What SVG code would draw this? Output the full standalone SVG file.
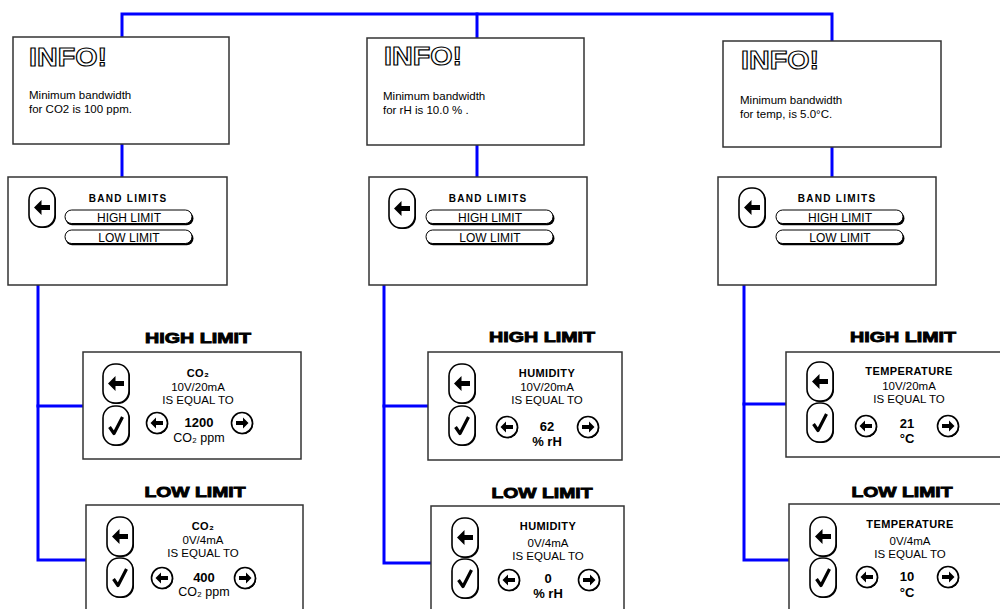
<svg xmlns="http://www.w3.org/2000/svg" xmlns:xlink="http://www.w3.org/1999/xlink" width="1000" height="609" viewBox="0 0 1000 609">
<style>
  .box{fill:#fff;stroke:#333;stroke-width:1.5}
  .conn{fill:none;stroke:#0000ff;stroke-width:3;stroke-linecap:square}
  .info{font-family:"Liberation Sans",Arial,sans-serif;font-weight:bold;font-size:25px;fill:#fff;stroke:#000;stroke-width:1.1}
  .body{font-family:"Liberation Sans",Arial,sans-serif;font-size:11.5px;fill:#000}
  .bl{font-family:"Liberation Sans",Arial,sans-serif;font-weight:bold;font-size:10px;letter-spacing:1.3px;fill:#000;text-anchor:middle}
  .pt{font-family:"Liberation Sans",Arial,sans-serif;font-size:12px;fill:#000;text-anchor:middle}
  .title{font-family:"Liberation Sans",Arial,sans-serif;font-weight:bold;font-size:15px;fill:#000;stroke:#000;stroke-width:0.9;text-anchor:middle}
  .hdr{font-family:"Liberation Sans","DejaVu Sans",sans-serif;font-weight:bold;font-size:11px;letter-spacing:0.4px;fill:#000;text-anchor:middle}
  .sm{font-family:"Liberation Sans",Arial,sans-serif;font-size:11.5px;fill:#000;text-anchor:middle}
  .val{font-family:"Liberation Sans","DejaVu Sans",sans-serif;font-weight:bold;font-size:13px;fill:#000;text-anchor:middle}
  .unit{font-family:"Liberation Sans","DejaVu Sans",sans-serif;font-size:12.5px;fill:#000;text-anchor:middle}
  .unitb{font-family:"Liberation Sans","DejaVu Sans",sans-serif;font-weight:bold;font-size:13px;fill:#000;text-anchor:middle}
</style>
<defs>
  <g id="btnBack">
    <rect x="1" y="1" width="26" height="39" rx="12" fill="#000"/>
    <rect x="0" y="0" width="26" height="39" rx="12" fill="#fff" stroke="#000" stroke-width="1.6"/>
    <polygon points="5,19.5 12.5,12 12.5,17 21,17 21,22 12.5,22 12.5,27" fill="#000"/>
  </g>
  <g id="btnCheck">
    <rect x="1" y="1" width="26" height="39" rx="12" fill="#000"/>
    <rect x="0" y="0" width="26" height="39" rx="12" fill="#fff" stroke="#000" stroke-width="1.6"/>
    <path d="M6.5,21 L11,27.5 L19.5,11" fill="none" stroke="#000" stroke-width="3.2" stroke-linejoin="round"/>
  </g>
  <g id="circL">
    <circle cx="0.8" cy="0.8" r="10.5" fill="#000"/>
    <circle cx="0" cy="0" r="10.5" fill="#fff" stroke="#000" stroke-width="1.6"/>
    <polygon points="-6.5,0 -1,-5.5 -1,-2 6,-2 6,2 -1,2 -1,5.5" fill="#000"/>
  </g>
  <g id="circR">
    <circle cx="0.8" cy="0.8" r="10.5" fill="#000"/>
    <circle cx="0" cy="0" r="10.5" fill="#fff" stroke="#000" stroke-width="1.6"/>
    <polygon points="6.5,0 1,-5.5 1,-2 -6,-2 -6,2 1,2 1,5.5" fill="#000"/>
  </g>
  <g id="pill">
    <rect x="0.5" y="1.8" width="128" height="13.5" rx="6.7" fill="#000"/>
    <rect x="0" y="0" width="127" height="13.5" rx="6.7" fill="#fff" stroke="#000" stroke-width="1"/>
  </g>
</defs>

<g id="connectors">
  <path class="conn" d="M122,37 V14 H832 V41"/>
  <path class="conn" d="M477,14 V38"/>
  <path class="conn" d="M122,144 V177"/>
  <path class="conn" d="M477,145 V177"/>
  <path class="conn" d="M832,147 V177"/>
  <path class="conn" d="M38,285 V560 H86"/>
  <path class="conn" d="M38,406 H83"/>
  <path class="conn" d="M384,285 V563 H431"/>
  <path class="conn" d="M384,406 H428"/>
  <path class="conn" d="M744,285 V560 H789"/>
  <path class="conn" d="M744,404 H786"/>
</g>

<!-- Column 1 -->
<g id="info1">
  <rect class="box" x="13" y="37" width="216" height="107"/>
  <text class="info" x="29" y="66" textLength="78" lengthAdjust="spacingAndGlyphs">INFO!</text>
  <text class="body" x="29" y="99">Minimum bandwidth</text>
  <text class="body" x="29" y="113">for CO2 is 100 ppm.</text>
</g>
<g id="band1">
  <rect class="box" x="8" y="177" width="219" height="108"/>
  <use xlink:href="#btnBack" x="29" y="188"/>
  <text class="bl" x="128" y="202">BAND LIMITS</text>
  <use xlink:href="#pill" x="65" y="210"/>
  <text class="pt" x="129" y="222">HIGH LIMIT</text>
  <use xlink:href="#pill" x="65" y="230"/>
  <text class="pt" x="129" y="242">LOW LIMIT</text>
</g>
<g id="high1">
  <text class="title" x="198" y="343" textLength="106" lengthAdjust="spacingAndGlyphs">HIGH LIMIT</text>
  <rect class="box" x="83" y="352" width="218" height="107"/>
  <use xlink:href="#btnBack" x="103" y="364"/>
  <use xlink:href="#btnCheck" x="103" y="406"/>
  <text class="hdr" x="198" y="377">CO₂</text>
  <text class="sm" x="198" y="391">10V/20mA</text>
  <text class="sm" x="198" y="404">IS EQUAL TO</text>
  <use xlink:href="#circL" x="157" y="423"/>
  <use xlink:href="#circR" x="242" y="423"/>
  <text class="val" x="199" y="427">1200</text>
  <text class="unit" x="199" y="442">CO₂ ppm</text>
</g>
<g id="low1">
  <text class="title" x="195" y="497" textLength="101" lengthAdjust="spacingAndGlyphs">LOW LIMIT</text>
  <rect class="box" x="86" y="505" width="217" height="112"/>
  <use xlink:href="#btnBack" x="107" y="517"/>
  <use xlink:href="#btnCheck" x="107" y="558"/>
  <text class="hdr" x="203" y="530">CO₂</text>
  <text class="sm" x="203" y="544">0V/4mA</text>
  <text class="sm" x="203" y="557">IS EQUAL TO</text>
  <use xlink:href="#circL" x="162" y="578"/>
  <use xlink:href="#circR" x="245" y="578"/>
  <text class="val" x="204" y="582">400</text>
  <text class="unit" x="204" y="596">CO₂ ppm</text>
</g>

<!-- Column 2 -->
<g id="info2">
  <rect class="box" x="367" y="38" width="217" height="107"/>
  <text class="info" x="384" y="65" textLength="78" lengthAdjust="spacingAndGlyphs">INFO!</text>
  <text class="body" x="383" y="100">Minimum bandwidth</text>
  <text class="body" x="383" y="114">for rH is 10.0 % .</text>
</g>
<g id="band2">
  <rect class="box" x="369" y="177" width="218" height="108"/>
  <use xlink:href="#btnBack" x="389" y="189"/>
  <text class="bl" x="488" y="202">BAND LIMITS</text>
  <use xlink:href="#pill" x="426" y="210"/>
  <text class="pt" x="490" y="222">HIGH LIMIT</text>
  <use xlink:href="#pill" x="426" y="230"/>
  <text class="pt" x="490" y="242">LOW LIMIT</text>
</g>
<g id="high2">
  <text class="title" x="542" y="342" textLength="106" lengthAdjust="spacingAndGlyphs">HIGH LIMIT</text>
  <rect class="box" x="428" y="352" width="194" height="108"/>
  <use xlink:href="#btnBack" x="449" y="364"/>
  <use xlink:href="#btnCheck" x="449" y="406"/>
  <text class="hdr" x="547" y="377">HUMIDITY</text>
  <text class="sm" x="547" y="391">10V/20mA</text>
  <text class="sm" x="547" y="404">IS EQUAL TO</text>
  <use xlink:href="#circL" x="507" y="427"/>
  <use xlink:href="#circR" x="588" y="427"/>
  <text class="val" x="547" y="431">62</text>
  <text class="unitb" x="547" y="446">% rH</text>
</g>
<g id="low2">
  <text class="title" x="542" y="498" textLength="101" lengthAdjust="spacingAndGlyphs">LOW LIMIT</text>
  <rect class="box" x="431" y="506" width="193" height="112"/>
  <use xlink:href="#btnBack" x="452" y="518"/>
  <use xlink:href="#btnCheck" x="452" y="559"/>
  <text class="hdr" x="548" y="530">HUMIDITY</text>
  <text class="sm" x="548" y="547">0V/4mA</text>
  <text class="sm" x="548" y="560">IS EQUAL TO</text>
  <use xlink:href="#circL" x="509" y="580"/>
  <use xlink:href="#circR" x="589" y="580"/>
  <text class="val" x="548" y="583">0</text>
  <text class="unitb" x="548" y="598">% rH</text>
</g>

<!-- Column 3 -->
<g id="info3">
  <rect class="box" x="723" y="41" width="218" height="106"/>
  <text class="info" x="741" y="69" textLength="78" lengthAdjust="spacingAndGlyphs">INFO!</text>
  <text class="body" x="740" y="104">Minimum bandwidth</text>
  <text class="body" x="740" y="118">for temp, is 5.0°C.</text>
</g>
<g id="band3">
  <rect class="box" x="718" y="177" width="218" height="108"/>
  <use xlink:href="#btnBack" x="739" y="188"/>
  <text class="bl" x="837" y="202">BAND LIMITS</text>
  <use xlink:href="#pill" x="776" y="210"/>
  <text class="pt" x="840" y="222">HIGH LIMIT</text>
  <use xlink:href="#pill" x="776" y="230"/>
  <text class="pt" x="840" y="242">LOW LIMIT</text>
</g>
<g id="high3">
  <text class="title" x="903" y="342" textLength="106" lengthAdjust="spacingAndGlyphs">HIGH LIMIT</text>
  <rect class="box" x="786" y="352" width="225" height="105"/>
  <use xlink:href="#btnBack" x="807" y="362"/>
  <use xlink:href="#btnCheck" x="807" y="403"/>
  <text class="hdr" x="909" y="375">TEMPERATURE</text>
  <text class="sm" x="909" y="390">10V/20mA</text>
  <text class="sm" x="909" y="403">IS EQUAL TO</text>
  <use xlink:href="#circL" x="866" y="426"/>
  <use xlink:href="#circR" x="948" y="426"/>
  <text class="val" x="907" y="428">21</text>
  <text class="unitb" x="907" y="443">°C</text>
</g>
<g id="low3">
  <text class="title" x="902" y="497" textLength="101" lengthAdjust="spacingAndGlyphs">LOW LIMIT</text>
  <rect class="box" x="789" y="504" width="225" height="112"/>
  <use xlink:href="#btnBack" x="810" y="517"/>
  <use xlink:href="#btnCheck" x="810" y="558"/>
  <text class="hdr" x="910" y="528">TEMPERATURE</text>
  <text class="sm" x="910" y="545">0V/4mA</text>
  <text class="sm" x="910" y="558">IS EQUAL TO</text>
  <use xlink:href="#circL" x="867" y="577"/>
  <use xlink:href="#circR" x="948" y="577"/>
  <text class="val" x="907" y="581">10</text>
  <text class="unitb" x="907" y="597">°C</text>
</g>
</svg>
